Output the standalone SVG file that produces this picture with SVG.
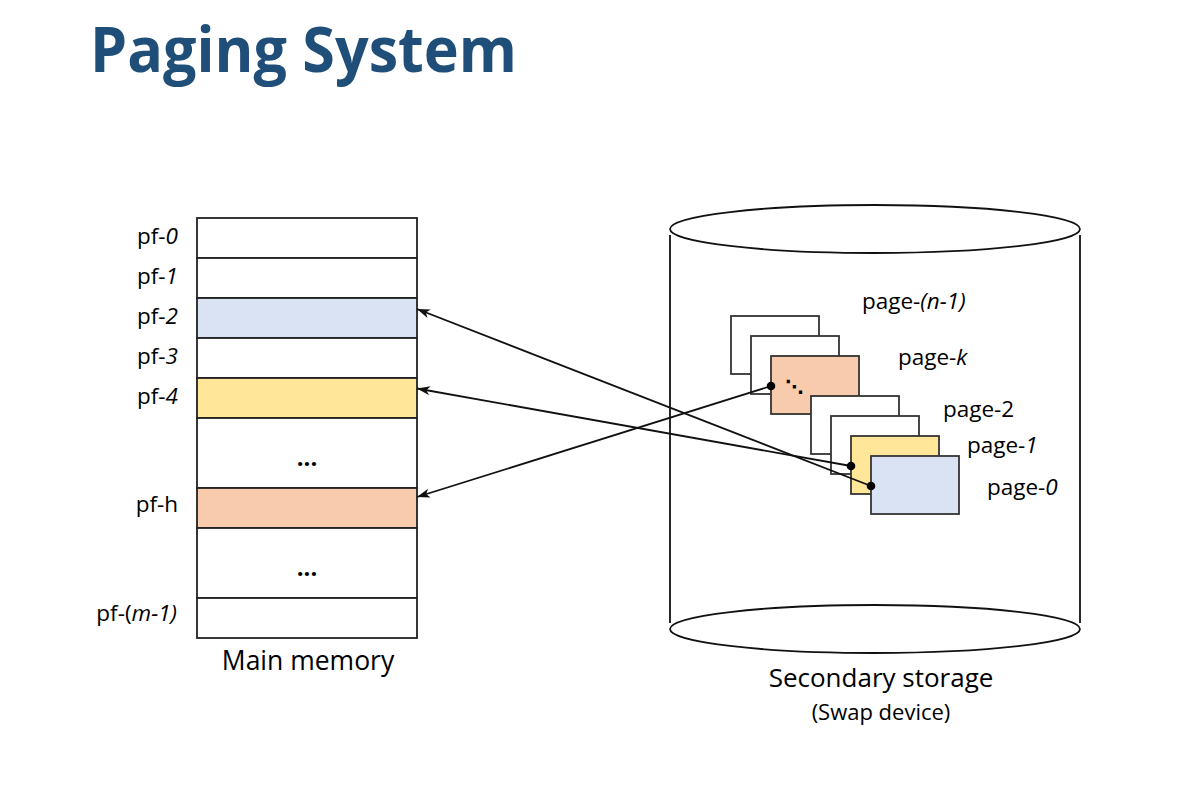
<svg xmlns="http://www.w3.org/2000/svg" width="1185" height="799" viewBox="0 0 1185 799">
<style>
.t{font-family:"Open Sans","Noto Sans",sans-serif;fill:#000}
.lbl{font-size:22.5px}
.row{stroke:#222;stroke-width:1.8}
.pg{stroke:#333;stroke-width:1.8}
.cyl{fill:#fff;stroke:#111;stroke-width:1.8}
.conn{stroke:#111;stroke-width:1.8;fill:none}
</style>
<defs>
<marker id="ah" markerUnits="userSpaceOnUse" markerWidth="14" markerHeight="10" refX="13" refY="4.5" orient="auto">
<path d="M0,0 L13,4.5 L0,9 L3.5,4.5 z" fill="#111"/>
</marker>
</defs>
<rect width="1185" height="799" fill="#fff"/>
<text class="t" x="90" y="72" font-size="62" font-weight="bold" style="fill:#1F4E79" textLength="427" lengthAdjust="spacingAndGlyphs">Paging System</text>

<g id="memory">
<g id="pf0"><rect class="row" x="197" y="218" width="220" height="40" fill="#fff"/><text class="t lbl" x="178" y="244" text-anchor="end">pf-<tspan font-style="italic">0</tspan></text></g>
<g id="pf1"><rect class="row" x="197" y="258" width="220" height="40" fill="#fff"/><text class="t lbl" x="178" y="284" text-anchor="end">pf-<tspan font-style="italic">1</tspan></text></g>
<g id="pf2"><rect class="row" x="197" y="298" width="220" height="40" fill="#DAE3F3"/><text class="t lbl" x="178" y="324" text-anchor="end">pf-<tspan font-style="italic">2</tspan></text></g>
<g id="pf3"><rect class="row" x="197" y="338" width="220" height="40" fill="#fff"/><text class="t lbl" x="178" y="364" text-anchor="end">pf-<tspan font-style="italic">3</tspan></text></g>
<g id="pf4"><rect class="row" x="197" y="378" width="220" height="40" fill="#FFE699"/><text class="t lbl" x="178" y="404" text-anchor="end">pf-<tspan font-style="italic">4</tspan></text></g>
<g id="gap1"><rect class="row" x="197" y="418" width="220" height="70" fill="#fff"/><text class="t" x="307" y="466" font-size="24" font-weight="bold" text-anchor="middle">...</text></g>
<g id="pfh"><rect class="row" x="197" y="488" width="220" height="40" fill="#F8CBAD"/><text class="t lbl" x="178" y="512" text-anchor="end">pf-h</text></g>
<g id="gap2"><rect class="row" x="197" y="528" width="220" height="70" fill="#fff"/><text class="t" x="307" y="576" font-size="24" font-weight="bold" text-anchor="middle">...</text></g>
<g id="pfm1"><rect class="row" x="197" y="598" width="220" height="40" fill="#fff"/><text class="t lbl" x="177" y="621" text-anchor="end">pf-(<tspan font-style="italic">m-1)</tspan></text></g>
<text class="t" x="308" y="670" font-size="26.5" text-anchor="middle">Main memory</text>
</g>

<g id="storage">
<rect x="670" y="229" width="410" height="400" fill="#fff"/>
<line class="conn" x1="670" y1="235" x2="670" y2="623"/>
<line class="conn" x1="1080" y1="235" x2="1080" y2="623"/>
<ellipse class="cyl" cx="875" cy="229" rx="205" ry="24"/>
<ellipse class="cyl" cx="875" cy="629" rx="205" ry="24"/>
<text class="t" x="881" y="687" font-size="26" text-anchor="middle">Secondary storage</text>
<text class="t" x="881" y="720" font-size="22" text-anchor="middle">(Swap device)</text>
</g>

<g id="page-n1"><rect class="pg" x="731" y="316" width="88" height="58" fill="#fff"/><text class="t lbl" x="862" y="309">page-<tspan font-style="italic">(n-1)</tspan></text></g>
<g id="page-x"><rect class="pg" x="751" y="336" width="88" height="58" fill="#fff"/></g>
<g id="page-k"><rect class="pg" x="771" y="356" width="88" height="58" fill="#F8CBAD"/><text x="785" y="393" font-family="DejaVu Sans,sans-serif" font-size="18" font-weight="bold">⋱</text><text class="t lbl" x="898" y="365">page-<tspan font-style="italic">k</tspan></text></g>
<g id="page-2"><rect class="pg" x="811" y="396" width="88" height="58" fill="#fff"/><text class="t lbl" x="943" y="417">page-2</text></g>
<g id="page-y"><rect class="pg" x="831" y="416" width="88" height="58" fill="#fff"/></g>
<g id="page-1"><rect class="pg" x="851" y="436" width="88" height="58" fill="#FFE699"/><text class="t lbl" x="967" y="453">page-<tspan font-style="italic">1</tspan></text></g>
<g id="page-0"><rect class="pg" x="871" y="456" width="88" height="58" fill="#DAE3F3"/><text class="t lbl" x="987" y="495">page-<tspan font-style="italic">0</tspan></text></g>

<g id="connectors">
<line class="conn" x1="871" y1="486" x2="417" y2="309" marker-end="url(#ah)"/>
<line class="conn" x1="851" y1="466" x2="417" y2="388.5" marker-end="url(#ah)"/>
<line class="conn" x1="771" y1="386" x2="417" y2="497" marker-end="url(#ah)"/>
<circle cx="871" cy="486" r="4.3" fill="#000"/>
<circle cx="851" cy="466" r="4.3" fill="#000"/>
<circle cx="771" cy="386" r="4.3" fill="#000"/>
</g>
</svg>
